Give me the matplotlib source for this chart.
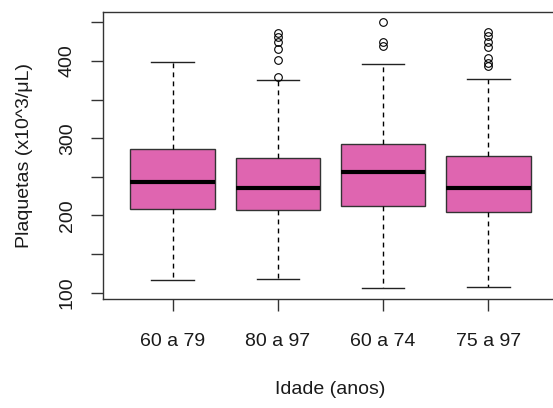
import matplotlib
matplotlib.use("Agg")
import matplotlib.pyplot as plt

categories = ["60 a 79", "80 a 97", "60 a 74", "75 a 97"]
whislo = [116, 118, 106, 107]
q1 = [209, 207, 212, 204]
med = [243, 236, 256, 236]
q3 = [286, 275, 293, 277]
whishi = [399, 376, 396, 377]
outliers = [
    [],
    [379, 401, 415, 424, 431, 436],
    [419, 424, 450],
    [393, 398, 404, 418, 425, 432, 437],
]
yticks = [100, 150, 200, 250, 300, 350, 400, 450]
yticklabels = ["100", "", "200", "", "300", "", "400", ""]

plt.rcParams['font.family'] = ['Liberation Sans', 'DejaVu Sans']

fig = plt.figure(figsize=(5.53, 4.08), dpi=100)
ax = fig.add_axes([103/553, 1-299/408, (558-103)/553, (299-12)/408])

stats = []
for i in range(len(categories)):
    stats.append(dict(med=med[i], q1=q1[i], q3=q3[i], whislo=whislo[i],
                      whishi=whishi[i], fliers=outliers[i], label=categories[i]))

ax.bxp(stats, positions=[1, 2, 3, 4], widths=0.8, patch_artist=True,
       boxprops=dict(facecolor='#DF65B0', edgecolor='#333333', linewidth=1.0),
       medianprops=dict(color='black', linewidth=3, solid_capstyle='butt'),
       whiskerprops=dict(color='black', linewidth=1.0, linestyle=(0, (3.5, 3))),
       capprops=dict(color='#222222', linewidth=1.0),
       flierprops=dict(marker='o', markerfacecolor='none', markeredgecolor='black',
                       markersize=5.5, markeredgewidth=0.8))

ax.set_xlim(0.34, 4.66)
ax.set_ylim(91.8, 463.5)
ax.set_yticks(yticks)
ax.set_yticklabels(yticklabels, rotation=90, va='center', fontsize=14, color='#1a1a1a')
ax.set_xticks([1, 2, 3, 4])
ax.set_xticklabels(categories, fontsize=14, color='#1a1a1a')
ax.tick_params(axis='both', length=8.5, width=1, color='#333333')
ax.tick_params(axis='x', pad=16)
ax.tick_params(axis='y', pad=11)
for s in ax.spines.values():
    s.set_color('#333333')
    s.set_linewidth(1.0)

ax.set_xlabel("Idade (anos)", fontsize=14, color='#1a1a1a', labelpad=22)
ax.set_ylabel("Plaquetas (x10^3/μL)", fontsize=14, color='#1a1a1a', labelpad=19)

fig.savefig("out.png", dpi=100)
